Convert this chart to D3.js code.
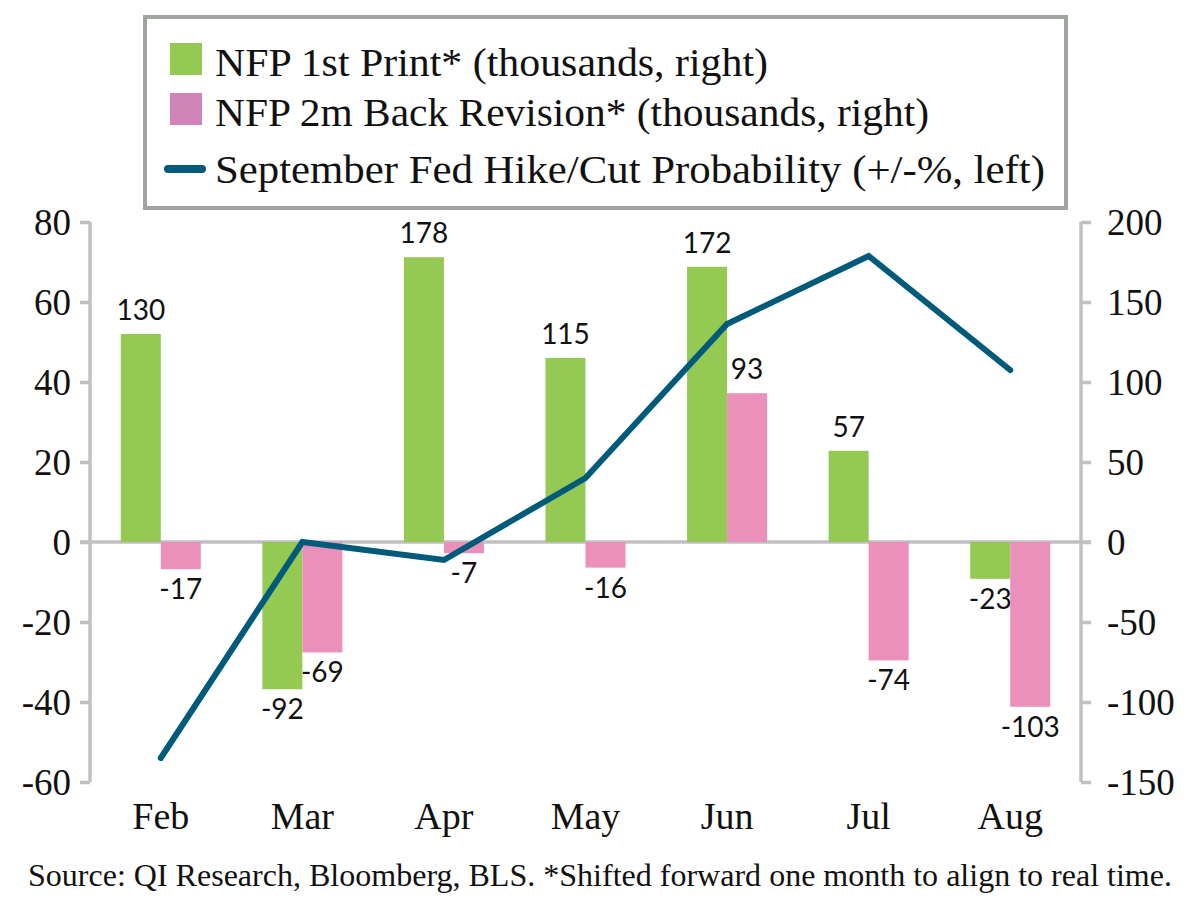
<!DOCTYPE html>
<html>
<head>
<meta charset="utf-8">
<script src="https://cdn.jsdelivr.net/npm/d3@7"></script>
<style>
  body { margin: 0; background: #fff; }
  svg { display: block; }
</style>
</head>
<body>
<script>
// Chart data
var months = ['Feb', 'Mar', 'Apr', 'May', 'Jun', 'Jul', 'Aug'];
var firstPrint = [130, -92, 178, 115, 172, 57, -23];      // thousands, right axis
var backRevision = [-17, -69, -7, -16, 93, -74, -103];   // thousands, right axis
var fedProb = [-54, 0, -4.5, 16, 54.5, 71.5, 43];         // +/- %, left axis
var leftTicks = [-60, -40, -20, 0, 20, 40, 60, 80];
var rightTicks = [-150, -100, -50, 0, 50, 100, 150, 200];
var legendLabels = [
  'NFP 1st Print* (thousands, right)',
  'NFP 2m Back Revision* (thousands, right)',
  'September Fed Hike/Cut Probability (+/-%, left)'
];
var sourceNote = 'Source: QI Research, Bloomberg, BLS. *Shifted forward one month to align to real time.';

// Size parameters
let width = 1200;
let height = 919;
let plotLeft = 90;
let plotRight = 1081;
let plotTop = 222;
let plotBottom = 782;

let serif = '"Liberation Serif", "DejaVu Serif", serif';
let sans = 'Lato, "Noto Sans", sans-serif';

let green = '#94c954';
let pink = '#eb90bb';
let pinkLegend = '#d083b6';
let navy = '#005b7b';
let axisGrey = '#c0c0c2';

var svg = d3.select('body')
            .append('svg')
            .attr('width', width)
            .attr('height', height);

// Scales
var x = d3.scaleBand().domain(months).range([plotLeft, plotRight]);
var yLeft = d3.scaleLinear().domain([-60, 80]).range([plotBottom, plotTop]);
var yRight = d3.scaleLinear().domain([-150, 200]).range([plotBottom, plotTop]);
let barWidth = 40;

// Plain hyphen for negatives, like the original
var fmt = function(v) { return String(v); };

// Zero line
svg.append('line')
   .attr('x1', plotLeft - 10).attr('x2', plotRight + 10)
   .attr('y1', yLeft(0)).attr('y2', yLeft(0))
   .attr('stroke', axisGrey).attr('stroke-width', 3.5);

// Bars: green to the left of band centre, pink to the right
var groups = svg.append('g');
months.forEach(function(m, i) {
  var cx = x(m) + x.bandwidth() / 2;
  [[firstPrint[i], green, cx - barWidth], [backRevision[i], pink, cx]].forEach(function(d) {
    var v = d[0];
    var y0 = yRight(Math.max(0, v));
    var y1 = yRight(Math.min(0, v));
    groups.append('rect')
          .attr('x', d[2]).attr('width', barWidth)
          .attr('y', y0).attr('height', y1 - y0)
          .attr('fill', d[1]);
    groups.append('text')
          .attr('x', d[2] + barWidth / 2)
          .attr('y', v >= 0 ? y0 - 14 : y1 + 30)
          .attr('text-anchor', 'middle')
          .style('font-family', sans).style('font-size', '28px')
          .attr('fill', '#111')
          .text(fmt(v));
  });
});

// Axes
var leftAxis = d3.axisLeft(yLeft).tickValues(leftTicks).tickFormat(fmt).tickSize(10).tickPadding(9);
var rightAxis = d3.axisRight(yRight).tickValues(rightTicks).tickFormat(fmt).tickSize(10).tickPadding(16);

var gl = svg.append('g').attr('transform', 'translate(' + plotLeft + ',0)').call(leftAxis);
var gr = svg.append('g').attr('transform', 'translate(' + plotRight + ',0)').call(rightAxis);
[gl, gr].forEach(function(g) {
  g.attr('font-family', null).attr('font-size', null);
  g.select('.domain').attr('stroke', axisGrey).attr('stroke-width', 3.5);
  g.selectAll('.tick line').attr('stroke', axisGrey).attr('stroke-width', 3.5);
  g.selectAll('.tick text')
   .style('font-family', serif).style('font-size', '37px').attr('fill', '#111')
   .attr('dy', '0.34em');
});
gl.select('.domain').attr('d', 'M0,' + plotTop + 'V' + plotBottom);
gr.select('.domain').attr('d', 'M0,' + plotTop + 'V' + plotBottom);

// Month labels
svg.append('g').selectAll('text')
   .data(months).enter().append('text')
   .attr('x', function(d) { return x(d) + x.bandwidth() / 2; })
   .attr('y', 829)
   .attr('text-anchor', 'middle')
   .style('font-family', serif).style('font-size', '38px').attr('fill', '#111')
   .text(function(d) { return d; });

// Fed probability line
var line = d3.line()
             .x(function(d, i) { return x(months[i]) + x.bandwidth() / 2; })
             .y(function(d) { return yLeft(d); });
svg.append('path')
   .datum(fedProb)
   .attr('d', line)
   .attr('fill', 'none')
   .attr('stroke', navy)
   .attr('stroke-width', 6)
   .attr('stroke-linejoin', 'miter')
   .attr('stroke-linecap', 'round');

// Legend box
svg.append('rect')
   .attr('x', 145).attr('y', 17).attr('width', 921).attr('height', 191)
   .attr('fill', '#fff').attr('stroke', '#9fa49f').attr('stroke-width', 4);

var legendY = [60, 110, 167];
svg.append('rect').attr('x', 170).attr('y', 43).attr('width', 32).attr('height', 32).attr('fill', green);
svg.append('rect').attr('x', 170).attr('y', 93).attr('width', 32).attr('height', 32).attr('fill', pinkLegend);
svg.append('line').attr('x1', 168).attr('x2', 202).attr('y1', 169).attr('y2', 169)
   .attr('stroke', navy).attr('stroke-width', 8).attr('stroke-linecap', 'round');

var legendWidths = [553, 714, 830];
legendLabels.forEach(function(t, i) {
  svg.append('text')
     .attr('x', 215).attr('y', legendY[i] + 16)
     .style('font-family', serif).style('font-size', '40px').attr('fill', '#111')
     .attr('textLength', legendWidths[i]).attr('lengthAdjust', 'spacingAndGlyphs')
     .text(t);
});

// Source note
svg.append('text')
   .attr('x', 28).attr('y', 886)
   .style('font-family', serif).style('font-size', '31px').attr('fill', '#111')
   .attr('textLength', 1144).attr('lengthAdjust', 'spacingAndGlyphs')
   .text(sourceNote);
</script>
</body>
</html>
